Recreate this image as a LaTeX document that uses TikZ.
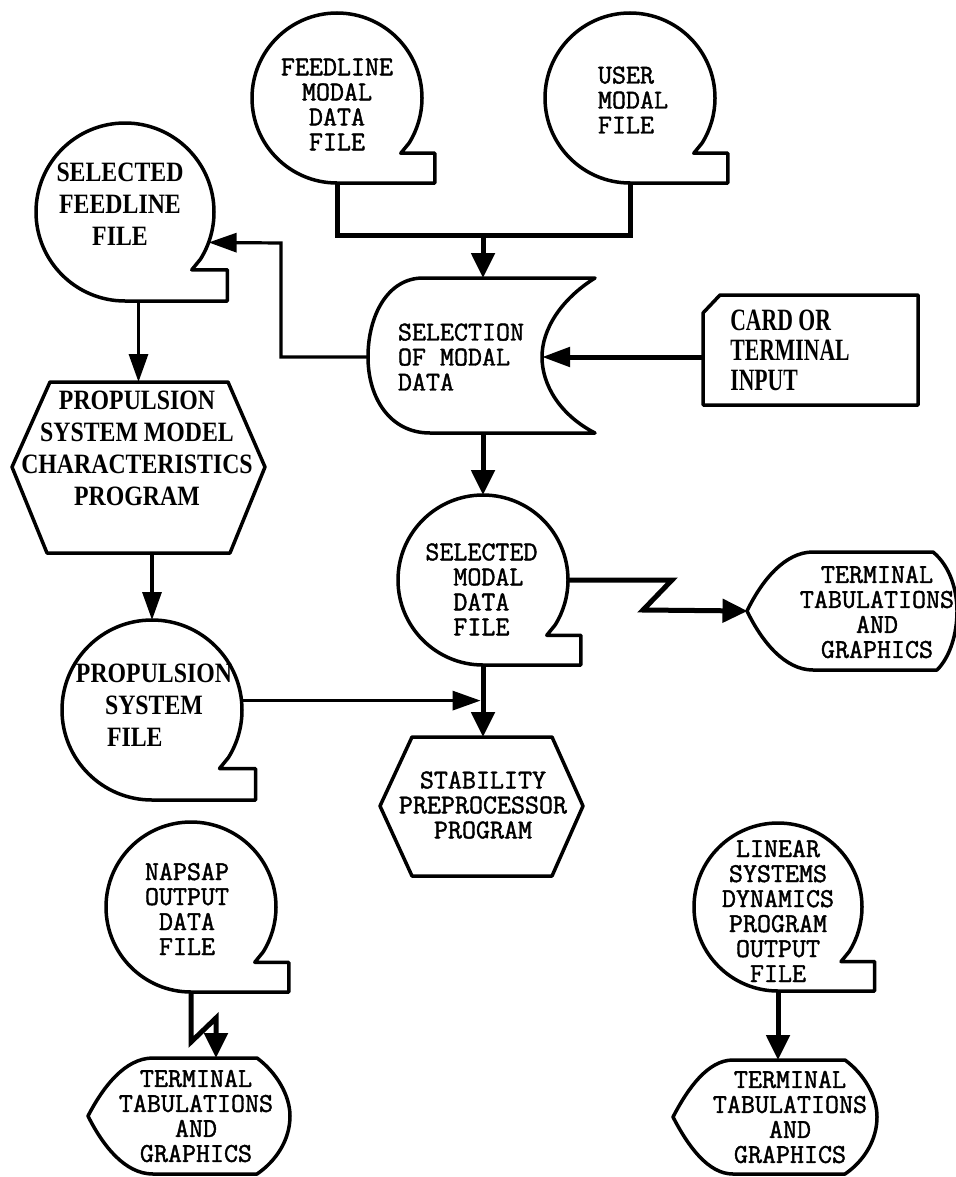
\documentclass[tikz,border=0pt]{standalone}
\usepackage{fontspec}
\setmainfont{Liberation Serif}
\newfontfamily\twfont[UprightFeatures={FakeBold=1.5}]{Latin Modern Mono}
\newfontfamily\bsfont[FakeStretch=0.85]{Liberation Serif}
\newfontfamily\cardfont[FakeStretch=0.7]{Liberation Serif}
\usetikzlibrary{arrows.meta}
\newcommand\tapeoutline[2]{%
  \draw[outl] (#1.south) arc[start angle=270, end angle=-32, radius=#2pt]
    -- ([shift={(0.75*#2pt,-0.65*#2pt)}]#1.center)
    -- ([shift={(1.15*#2pt,-0.65*#2pt)}]#1.center)
    -- ([shift={(1.15*#2pt,-#2pt)}]#1.center) -- cycle;}
\begin{document}
\begin{tikzpicture}[x=0.5pt, y=-0.5pt,
  outl/.style={line width=1.75pt, line join=round},
  thickc/.style={line width=2.5pt},
  medc/.style={line width=1.6pt},
  tipA/.style={-{Triangle[length=12.5pt,width=11.5pt]}},
  tipB/.style={-{Triangle[length=14pt,width=9.5pt]}},
  tape/.style={circle, draw=none, inner sep=0pt, outer sep=0pt},
  anch/.style={rectangle, draw=none, inner sep=0pt, outer sep=0pt},
  tw/.style={font=\twfont\fontsize{13.6pt}{12.5pt}\selectfont, inner sep=0pt},
  bs/.style={font=\bsfont\bfseries\fontsize{14pt}{16pt}\selectfont, inner sep=0pt},
  cs/.style={font=\cardfont\bfseries\fontsize{15.5pt}{15pt}\selectfont, inner sep=0pt},
]
\useasboundingbox (0,0) rectangle (956,1177);

% storage (tape/disk) symbols
\node[tape, minimum size=85pt] (fmd) at (337,98) {};
\node[tape, minimum size=85pt] (umf) at (630,98) {};
\node[tape, minimum size=89pt] (sfl) at (125,212) {};
\node[tape, minimum size=85pt] (smd) at (483,580) {};
\node[tape, minimum size=90pt] (pfile) at (152,710) {};
\node[tape, minimum size=85pt] (nap) at (191,907) {};
\node[tape, minimum size=84pt] (lin) at (778,907) {};
\tapeoutline{fmd}{42.5}
\tapeoutline{umf}{42.5}
\tapeoutline{sfl}{44.5}
\tapeoutline{smd}{42.5}
\tapeoutline{pfile}{45}
\tapeoutline{nap}{42.5}
\tapeoutline{lin}{42}

% selection of modal data (stored data shape)
\node[anch, minimum width=113.5pt, minimum height=77.5pt] (sel) at (483,355.5) {};
\draw[outl] (423,278) -- (595,278) .. controls (560,300) and (542,330) .. (542,357)
  .. controls (542,385) and (560,415) .. (595,433) -- (430,433)
  .. controls (390,433) and (368,398) .. (368,357)
  .. controls (368,315) and (388,278) .. (423,278) -- cycle;
\coordinate (selin) at (542,357);
\coordinate (selleft) at (368,357);

% card
\node[anch, minimum width=107.5pt, minimum height=55pt] (card) at (810.5,350) {};
\draw[outl] (703,313) -- (720,295) -- (918,295) -- (918,405) -- (703,405) -- cycle;

% hexagons
\node[anch, minimum width=126.5pt, minimum height=85.5pt] (hex1) at (138.5,467.5) {};
\draw[outl] (50,382) -- (228,382) -- (265,467) -- (230,553) -- (47,553) -- (12,467) -- cycle;
\node[anch, minimum width=101.5pt, minimum height=69.5pt] (stab) at (481.5,806.5) {};
\draw[outl] (412,737) -- (552,737) -- (583,806) -- (552,876) -- (412,876) -- (380,806) -- cycle;

% displays
\node[anch, minimum width=104.5pt, minimum height=59pt] (disp1) at (852,611) {};
\draw[outl] (747,611) .. controls (762,580) and (785,552) .. (813,552) -- (933,552)
  .. controls (950,566) and (957,590) .. (957,611) .. controls (957,634) and (950,657) .. (937,670)
  -- (813,670) .. controls (785,670) and (762,642) .. (747,611) -- cycle;
\node[anch, minimum width=101pt, minimum height=58pt] (disp2) at (189,1116) {};
\draw[outl] (88,1116) .. controls (103,1087) and (125,1058) .. (153,1058) -- (257,1058)
  .. controls (276,1072) and (290,1095) .. (290,1116) .. controls (290,1140) and (276,1161) .. (257,1174)
  -- (153,1174) .. controls (125,1174) and (103,1146) .. (88,1116) -- cycle;
\node[anch, minimum width=102pt, minimum height=57pt] (disp3) at (775,1117) {};
\draw[outl] (673,1117) .. controls (688,1088) and (708,1060) .. (733,1060) -- (845,1060)
  .. controls (864,1074) and (877,1096) .. (877,1117) .. controls (877,1140) and (864,1161) .. (845,1174)
  -- (733,1174) .. controls (708,1174) and (688,1146) .. (673,1117) -- cycle;

% texts
\node[tw, align=center] (fmdt) at (337,104.5) {FEEDLINE\\MODAL\\DATA\\FILE};
\node[tw, align=left] (umft) at (633,100) {USER\\MODAL\\FILE};
\node[bs, align=center] (sflt) at (120,204) {SELECTED\\FEEDLINE\\FILE};
\node[tw, align=left] (selt) at (461,357) {SELECTION\\OF MODAL\\DATA};
\node[cs, align=left] (cardt) at (790,350) {CARD OR\\TERMINAL\\INPUT};
\node[bs, align=center] (hex1t) at (137,448) {PROPULSION\\SYSTEM MODEL\\CHARACTERISTICS\\PROGRAM};
\node[bs, align=center] (pfilet) at (154,705) {PROPULSION\\SYSTEM\\FILE\hphantom{EM}};
\node[tw, align=left, anchor=west] (smdt) at (425,589.5) {SELECTED\\\phantom{SE}MODAL\\\phantom{SE}DATA\\\phantom{SE}FILE};
\node[tw, align=center] (stabt) at (483,805) {STABILITY\\PREPROCESSOR\\PROGRAM};
\node[tw, align=center] (disp1t) at (877,612) {TERMINAL\\TABULATIONS\\AND\\GRAPHICS};
\node[tw, align=center] (napt) at (187,909) {NAPSAP\\OUTPUT\\DATA\\FILE};
\node[tw, align=center] (disp2t) at (196,1116) {TERMINAL\\TABULATIONS\\AND\\GRAPHICS};
\node[tw, align=center] (lint) at (778,911) {LINEAR\\SYSTEMS\\DYNAMICS\\PROGRAM\\OUTPUT\\FILE};
\node[tw, align=center] (disp3t) at (790,1117) {TERMINAL\\TABULATIONS\\AND\\GRAPHICS};

% connectors
\coordinate (junc) at (483,235);
\draw[thickc] (fmd.south) |- (junc) -| (umf.south);
\draw[thickc, tipA] (junc) -- (sel.north);
\draw[thickc, tipB] (card.west |- selin) -- (selin);
\coordinate (bend) at (281,243);
\draw[medc, tipB] (selleft) -| (bend) -- (sfl.-20);
\draw[medc, tipB] (sfl.south -| hex1.north) -- (hex1.north);
\draw[medc, tipB] (hex1.south -| pfile.north) -- (pfile.north);
\draw[thickc, tipA] (sel.south) -- (smd.north);
\draw[medc, tipB, shorten >=1.2pt] (pfile.6) -- (pfile.6 -| smd.south);
\draw[thickc, tipA] (smd.south) -- (smd.south |- stab.north);
\draw[thickc, tipA] (smd.east) -- ++(104,0) -- ++(-29,30) -- (disp1.west);
\coordinate (nz) at (216,1018);
\draw[thickc, tipA] (nap.south) -- ++(0,50) -- (nz) -- (nz |- disp2.north);
\draw[thickc, tipA] (lin.south) -- (lin.south |- disp3.north);
\end{tikzpicture}
\end{document}
